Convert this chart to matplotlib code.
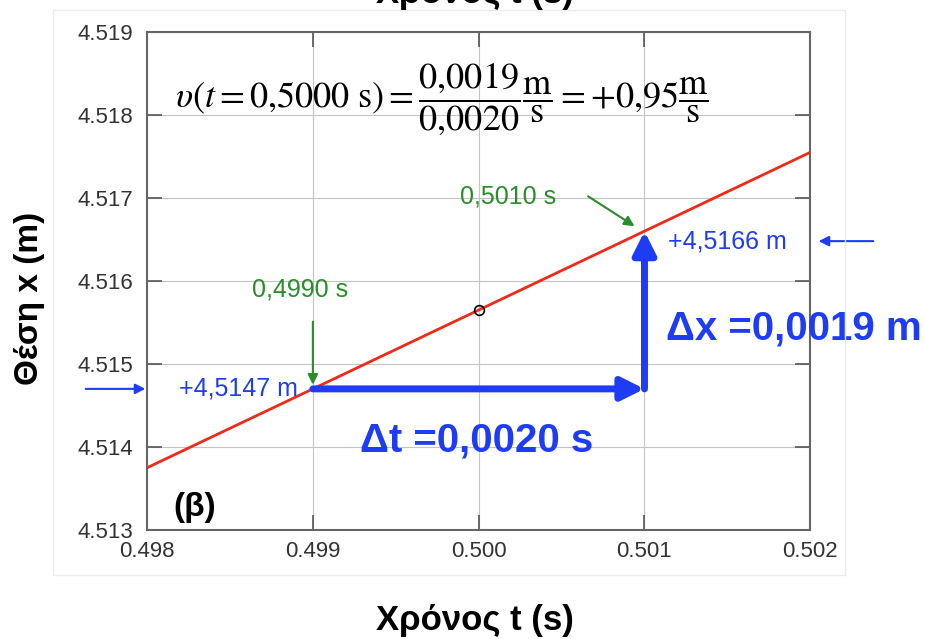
import numpy as np
import matplotlib
matplotlib.use("Agg")
import matplotlib.pyplot as plt
from matplotlib.patches import Rectangle

# data
t_line = [0.498, 0.499, 0.500, 0.501, 0.502]
x_line = [4.51375, 4.5147, 4.51565, 4.5166, 4.51755]
t_mid, x_mid = 0.500, 4.51565
t1, x1 = 0.499, 4.5147
t2, x2 = 0.501, 4.5166
xticks = [0.498, 0.499, 0.500, 0.501, 0.502]
yticks = [4.513, 4.514, 4.515, 4.516, 4.517, 4.518, 4.519]

plt.rcParams['font.family'] = ['Liberation Sans', 'DejaVu Sans']
plt.rcParams['mathtext.fontset'] = 'stix'

blue = '#1f3cf5'
green = '#2a8c2a'
red = '#f02a1a'

fig = plt.figure(figsize=(9.25, 6.39), dpi=100)
fig.patches.append(Rectangle((0.057, 0.100), 0.857, 0.884, transform=fig.transFigure,
                             fill=False, ec='#ececec', lw=1))
ax = fig.add_axes([0.159, 0.1706, 0.717, 0.7794])

ax.plot(t_line, x_line, color=red, lw=2, zorder=3)
ax.plot([t_mid], [x_mid], 'o', mfc='none', mec='black', ms=7, mew=1.2, zorder=4)

ax.set_xlim(0.498, 0.502)
ax.set_ylim(4.513, 4.519)
ax.set_xticks(xticks)
ax.set_yticks(yticks)
ax.set_xticklabels([f'{v:.3f}' for v in xticks])
ax.set_yticklabels([f'{v:.3f}' for v in yticks])
ax.grid(True, color='#c4c4c4', lw=0.8)
ax.tick_params(direction='in', length=11, width=1.2, color='#555555', top=True, right=True,
               labelsize=16, labelcolor='#333333')
ax.tick_params(axis='x', pad=8)
ax.tick_params(axis='y', pad=10)
for s in ax.spines.values():
    s.set_color('#666666')
    s.set_linewidth(1.5)

# thick blue arrows
ax.annotate('', xy=(t2, x1), xytext=(t1, x1),
            arrowprops=dict(arrowstyle='-|>', color=blue, lw=5, mutation_scale=34,
                            shrinkA=0, shrinkB=0), zorder=5)
ax.annotate('', xy=(t2, x2), xytext=(t2, x1),
            arrowprops=dict(arrowstyle='-|>', color=blue, lw=5, mutation_scale=34,
                            shrinkA=0, shrinkB=0), zorder=5)

# thin blue arrows outside
ax.annotate('', xy=(0.49799, x1), xytext=(0.49763, x1), annotation_clip=False,
            arrowprops=dict(arrowstyle='-|>', color=blue, lw=1.5, mutation_scale=15,
                            shrinkA=0, shrinkB=0))
ax.annotate('', xy=(0.50205, 4.51648), xytext=(0.50238, 4.51648), annotation_clip=False,
            arrowprops=dict(arrowstyle='-|>', color=blue, lw=1.5, mutation_scale=15,
                            shrinkA=0, shrinkB=0))

# green arrows
ax.annotate('', xy=(t1, 4.51475), xytext=(t1, 4.51551),
            arrowprops=dict(arrowstyle='-|>', color=green, lw=1.5, mutation_scale=15,
                            shrinkA=0, shrinkB=0))
ax.annotate('', xy=(0.50094, 4.51666), xytext=(0.50066, 4.51702),
            arrowprops=dict(arrowstyle='-|>', color=green, lw=1.5, mutation_scale=15,
                            shrinkA=0, shrinkB=0))

ax.text(0.49892, 4.5159, '0,4990 s', color=green, fontsize=18, ha='center', va='center')
ax.text(0.50018, 4.51702, '0,5010 s', color=green, fontsize=18, ha='center', va='center')
ax.text(0.49855, x1, '+4,5147 m', color=blue, fontsize=18, ha='center', va='center')
ax.text(0.50150, 4.51648, '+4,5166 m', color=blue, fontsize=18, ha='center', va='center')

ax.text(0.50190, 4.51543, 'Δx =0,0019 m', color=blue, fontsize=29, fontweight='bold',
        ha='center', va='center', clip_on=False)
ax.text(0.49999, 4.51408, 'Δt =0,0020 s', color=blue, fontsize=29, fontweight='bold',
        ha='center', va='center')
ax.text(0.49829, 4.51327, '(β)', color='black', fontsize=24, fontweight='bold',
        ha='center', va='center')

ax.text(0.49978, 4.51820,
        r'$\upsilon(t=0{,}5000\ \mathrm{s})=\dfrac{0{,}0019}{0{,}0020}\dfrac{\mathrm{m}}{\mathrm{s}}=+0{,}95\dfrac{\mathrm{m}}{\mathrm{s}}$',
        fontsize=26, ha='center', va='center')

fig.text(0.513, 0.029, 'Χρόνος t (s)', fontsize=25, fontweight='bold', ha='center', va='center')
fig.text(0.513, 0.995, 'Χρόνος t (s)', fontsize=25, fontweight='bold', ha='center', va='baseline')
fig.text(0.032, 0.533, 'Θέση x (m)', fontsize=24, fontweight='bold', ha='center', va='center',
         rotation=90)

fig.savefig('out.png', dpi=100)
